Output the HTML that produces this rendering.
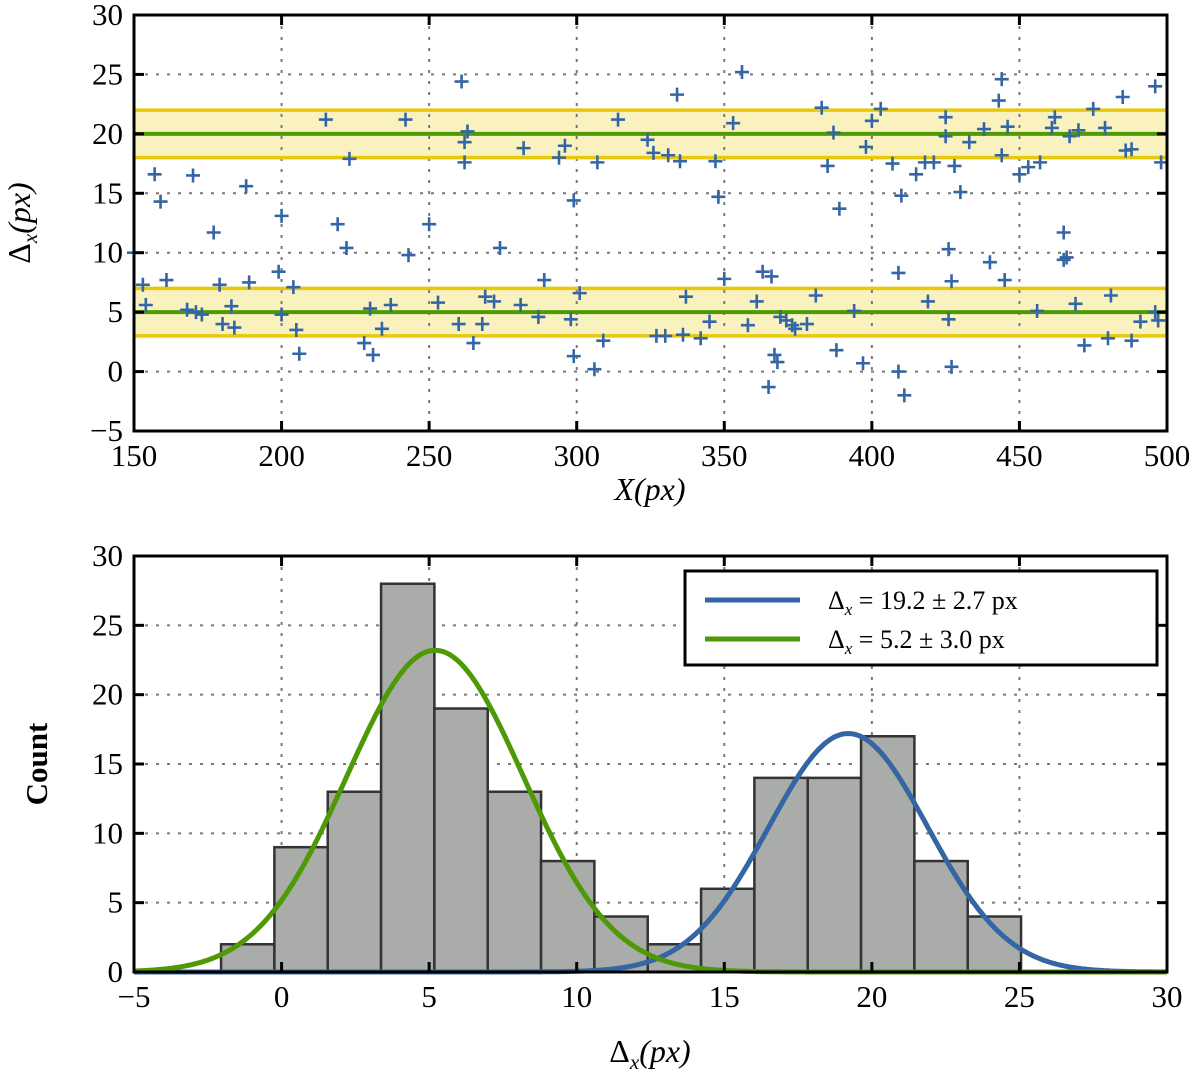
<!DOCTYPE html>
<html><head><meta charset="utf-8"><style>
html,body{margin:0;padding:0;background:#fff;}
svg{display:block;font-family:"Liberation Serif",serif;}
</style></head><body>
<svg id="c" width="1200" height="1087" viewBox="0 0 1200 1087" xmlns="http://www.w3.org/2000/svg"></svg>
<script>
// ---- Top scatter data ----
const scatterX=[150,153,154,157,159,161,168,170,171,173,177,179,180,183,184,188,189,200,199,200,204,205,206,215,219,222,223,228,230,231,234,237,242,243,250,
253,260,261,262,262,263,265,268,269,272,274,281,282,287,289,294,296,298,299,299,301,306,307,309,314,324,326,327,330,331,334,335,336,337,342,345,347,348,350,353,356,358,361,363,365,366,367,368,369,371,373,374,378,381,383,385,387,388,389,394,397,398,400,403,407,409,409,410,411,415,419,418,421,425,425,426,427,426,427,428,430,433,438,440,443,444,444,445,446,450,453,456,457,461,462,465,465,466,467,469,470,472,475,479,480,481,485,486,488,488,491,496,496,497,498];
const scatterY=[10,7.3,5.6,16.6,14.3,7.7,5.2,16.5,5,4.8,11.7,7.3,4,5.5,3.7,15.6,7.5,13.1,8.4,4.8,7.1,3.5,1.5,21.2,12.4,10.4,17.9,2.4,5.3,1.4,3.6,5.6,21.2,9.8,12.4,
5.8,4,24.4,19.3,17.6,20.2,2.4,4,6.3,5.9,10.4,5.6,18.8,4.6,7.7,18,19,4.4,1.3,14.4,6.6,0.2,17.6,2.6,21.2,19.5,18.4,3,3,18.2,23.3,17.7,3.1,6.3,2.8,4.2,17.7,14.7,7.8,20.9,25.2,3.9,5.9,8.4,-1.3,8,1.4,0.8,4.6,4.3,3.9,3.6,4,6.4,22.2,17.3,20.1,1.8,13.7,5.1,0.7,18.9,21.1,22.1,17.5,8.3,0,14.8,-2,16.6,5.9,17.6,17.6,21.4,19.8,10.3,7.6,4.4,0.4,17.3,15.1,19.3,20.4,9.2,22.8,24.6,18.2,7.7,20.6,16.6,17.2,5.1,17.6,20.5,21.4,9.4,11.7,9.6,19.8,5.7,20.3,2.2,22.1,20.5,2.8,6.4,23.1,18.6,18.7,2.6,4.2,24,5,4.3,17.6];
const bandCenters=[20,5];
const bandHalfWidth=[2,2];
const topXTicks=[150,200,250,300,350,400,450,500];
const topYTicks=[-5,0,5,10,15,20,25,30];
// ---- Bottom histogram data ----
const binStart=-2.05, binWidth=1.807;
const counts=[2,9,13,28,19,13,8,4,2,6,14,14,17,8,4];
const fitMu=[19.2,5.2];
const fitSigma=[2.7,3.0];
const fitAmp=[17.2,23.2];
const fitLabels=["Δ<tspan font-style='italic' font-size='17' dy='6'>x</tspan><tspan dy='-6'> = 19.2 ± 2.7 px</tspan>","Δ<tspan font-style='italic' font-size='17' dy='6'>x</tspan><tspan dy='-6'> = 5.2 ± 3.0 px</tspan>"];
const fitColors=["#3465a4","#4e9a06"];
const botXTicks=[-5,0,5,10,15,20,25,30];
const botYTicks=[0,5,10,15,20,25,30];

const NS="http://www.w3.org/2000/svg";
const svg=document.getElementById('c');
function mk(tag,attrs,parent){const e=document.createElementNS(NS,tag);for(const k in attrs)e.setAttribute(k,attrs[k]);(parent||svg).appendChild(e);return e;}

const L=134,R=1167;
const tT=15,tB=431;
const tx=v=>L+(v-150)/(350)*(R-L);
const ty=v=>tB-(v+5)/35*(tB-tT);
const bT=556,bB=972;
const bx=v=>L+(v+5)/35*(R-L);
const by=v=>bB-v/30*(bB-bT);

function grid(g,xt,yt,fx,fy,T,B){
  xt.forEach(v=>{const l=mk('line',{x1:fx(v),x2:fx(v),y1:T,y2:B,stroke:'#777','stroke-width':2,'stroke-dasharray':'3,8'},g);});
  yt.forEach(v=>{const l=mk('line',{x1:L,x2:R,y1:fy(v),y2:fy(v),stroke:'#777','stroke-width':2,'stroke-dasharray':'3,8'},g);});
}
function frame(g,xt,yt,fx,fy,T,B){
  xt.forEach(v=>{
    mk('line',{x1:fx(v),x2:fx(v),y1:B,y2:B-10,stroke:'#000','stroke-width':3},g);
    mk('line',{x1:fx(v),x2:fx(v),y1:T,y2:T+10,stroke:'#000','stroke-width':3},g);
    const t=mk('text',{x:fx(v),y:B+35,'text-anchor':'middle','font-size':31},g);t.textContent=v<0?'−'+(-v):v;
    
  });
  yt.forEach(v=>{
    mk('line',{x1:L,x2:L+10,y1:fy(v),y2:fy(v),stroke:'#000','stroke-width':3},g);
    mk('line',{x1:R,x2:R-10,y1:fy(v),y2:fy(v),stroke:'#000','stroke-width':3},g);
    const t=mk('text',{x:123,y:fy(v)+10,'text-anchor':'end','font-size':31},g);t.textContent=v<0?'−'+(-v):v;
    
  });
  const f=mk('rect',{x:L,y:T,width:R-L,height:B-T,fill:'none',stroke:'#000','stroke-width':3},g);
  
}

// ===== Top plot =====
const gTop=mk('g',{});

bandCenters.forEach((c,i)=>{
  const r=mk('rect',{x:L,y:ty(c+bandHalfWidth[i]),width:R-L,height:ty(c-bandHalfWidth[i])-ty(c+bandHalfWidth[i]),fill:'#f9f2bf'},gTop);
  
});
grid(gTop,topXTicks,topYTicks,tx,ty,tT,tB);
bandCenters.forEach((c,i)=>{
  [c+bandHalfWidth[i],c-bandHalfWidth[i]].forEach(v=>{
    const l=mk('line',{x1:L,x2:R,y1:ty(v),y2:ty(v),stroke:'#e8c80a','stroke-width':3.5},gTop);
    
  });
  const m=mk('line',{x1:L,x2:R,y1:ty(c),y2:ty(c),stroke:'#4e9a06','stroke-width':4},gTop);
  
});
scatterX.forEach((xv,i)=>{
  const x=tx(xv),y=ty(scatterY[i]);
  const p=mk('path',{d:`M${x-7},${y}H${x+7}M${x},${y-7}V${y+7}`,stroke:'#3465a4','stroke-width':2.6,fill:'none'},gTop);
  
});
frame(gTop,topXTicks,topYTicks,tx,ty,tT,tB);
let t=mk('text',{x:0,y:0,'font-size':32,'font-style':'italic',transform:'translate(30,223) rotate(-90)','text-anchor':'middle'});
t.innerHTML="<tspan font-style='normal'>Δ</tspan><tspan font-size='21' dy='7'>x</tspan><tspan dy='-7'>(px)</tspan>";

t=mk('text',{x:650,y:500,'font-size':32,'font-style':'italic','text-anchor':'middle'});t.textContent='X(px)';


// ===== Bottom plot =====
const gBot=mk('g',{});

grid(gBot,botXTicks,botYTicks,bx,by,bT,bB);
counts.forEach((c,i)=>{
  const x0=bx(binStart+i*binWidth),x1=bx(binStart+(i+1)*binWidth);
  const r=mk('rect',{x:x0,y:by(c),width:x1-x0,height:by(0)-by(c),fill:'#a9aca8',stroke:'#333','stroke-width':2.5},gBot);
  
});
fitMu.forEach((mu,k)=>{
  let d='';
  for(let i=0;i<=350;i++){const v=-5+i*0.1;const yv=fitAmp[k]*Math.exp(-0.5*((v-mu)/fitSigma[k])**2);d+=(i?'L':'M')+bx(v).toFixed(1)+','+by(yv).toFixed(1);}
  const p=mk('path',{d:d,stroke:fitColors[k],'stroke-width':5,fill:'none'},gBot);
  
});
frame(gBot,botXTicks,botYTicks,bx,by,bT,bB);
const lg=mk('g',{});

mk('rect',{x:685,y:571,width:472,height:94,fill:'#fff',stroke:'#000','stroke-width':3},lg);
fitLabels.forEach((s,k)=>{
  const y=600+k*39;
  const l=mk('line',{x1:705,x2:800,y1:y,y2:y,stroke:fitColors[k],'stroke-width':5},lg);
  
  const tt=mk('text',{x:828,y:y+9,'font-size':26},lg);tt.innerHTML=s;
  
});
t=mk('text',{x:0,y:0,'font-size':31,'font-weight':'bold',transform:'translate(47,764) rotate(-90)','text-anchor':'middle'});t.textContent='Count';

t=mk('text',{x:650,y:1062,'font-size':32,'font-style':'italic','text-anchor':'middle'});
t.innerHTML="<tspan font-style='normal'>Δ</tspan><tspan font-size='21' dy='7'>x</tspan><tspan dy='-7'>(px)</tspan>";

</script>
</body></html>
